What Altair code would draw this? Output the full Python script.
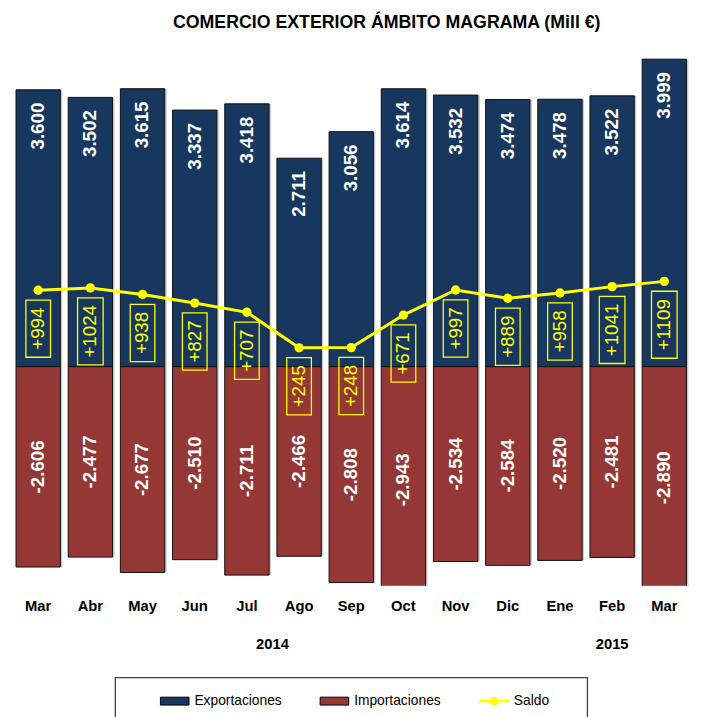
import altair as alt
import pandas as pd

# ---------------- data ----------------
months = ["Mar", "Abr", "May", "Jun", "Jul", "Ago", "Sep", "Oct", "Nov", "Dic", "Ene", "Feb", "Mar"]
years = [2014, 2014, 2014, 2014, 2014, 2014, 2014, 2014, 2014, 2014, 2015, 2015, 2015]
exports = [3600, 3502, 3615, 3337, 3418, 2711, 3056, 3614, 3532, 3474, 3478, 3522, 3999]
imports = [-2606, -2477, -2677, -2510, -2711, -2466, -2808, -2943, -2534, -2584, -2520, -2481, -2890]
saldo = [994, 1024, 938, 827, 707, 245, 248, 671, 997, 889, 958, 1041, 1109]
series_names = ["Exportaciones", "Importaciones", "Saldo"]
series_colors = ["#17375E", "#953735", "#FFFF00"]
title_text = "COMERCIO EXTERIOR ÁMBITO MAGRAMA (Mill €)"
year_labels = {"Jul 2014": "2014", "Feb 2015": "2015"}


def es_num(v):
    return f"{v:,}".replace(",", ".")


keys = [f"{m} {y}" for m, y in zip(months, years)]
df = pd.DataFrame({
    "key": keys,
    "exp": exports,
    "imp": imports,
    "saldo": saldo,
    "exp_lbl": [es_num(v) for v in exports],
    "imp_lbl": [es_num(v) for v in imports],
    "saldo_lbl": [f"+{v}" for v in saldo],
})

FONT = "Liberation Sans, Arial, sans-serif"
EXP_C, IMP_C, SAL_C = series_colors

x_scale = alt.Scale(domain=keys, paddingInner=0.15, paddingOuter=0.13)
y_scale = alt.Scale(domain=[-2850, 4200], nice=False, zero=False)

month_axis = alt.Axis(
    title=None, labelAngle=0, domain=False, ticks=False, grid=False,
    labelPadding=13, labelFont=FONT, labelFontSize=15, labelFontWeight="bold",
    labelColor="black", labelExpr="split(datum.value, ' ')[0]",
)
year_expr = " : ".join(f"datum.value == '{k}' ? '{v}'" for k, v in year_labels.items()) + " : ''"
year_axis = alt.Axis(
    title=None, orient="bottom", labelAngle=0, domain=False, ticks=False, grid=False,
    labelPadding=52, labelFont=FONT, labelFontSize=15, labelFontWeight="bold",
    labelColor="black", labelExpr=year_expr,
    labelOffset={"condition": {"test": "datum.value == 'Jul 2014'", "value": 26}, "value": 0},
)


def X(axis=None):
    return alt.X("key:N", scale=x_scale, axis=axis)


def Y(field):
    return alt.Y(f"{field}:Q", scale=y_scale, axis=None)


base = alt.Chart(df)

shadow_exp = base.mark_bar(color="#9a9a9a", opacity=0.5, xOffset=2, clip=True).encode(x=X(), y=Y("exp"))
shadow_imp = base.mark_bar(color="#9a9a9a", opacity=0.5, xOffset=2, clip=True).encode(x=X(), y=Y("imp"))

exp_bars = base.mark_bar(color=EXP_C, stroke="#111111", strokeWidth=1, clip=True).encode(
    x=X(month_axis), y=Y("exp"))
imp_bars = base.mark_bar(color=IMP_C, stroke="#111111", strokeWidth=1, clip=True).encode(
    x=X(year_axis), y=Y("imp"))

exp_text = base.mark_text(
    angle=270, align="right", baseline="middle", yOffset=13,
    color="white", fontWeight="bold", fontSize=19, font=FONT,
).encode(x=X(), y=Y("exp"), text="exp_lbl:N")

imp_text = base.transform_calculate(mid="datum.imp / 2").mark_text(
    angle=270, align="center", baseline="middle",
    color="white", fontWeight="bold", fontSize=19, font=FONT,
).encode(x=X(), y=Y("mid"), text="imp_lbl:N")

line = base.mark_line(
    color=SAL_C, strokeWidth=3,
    point=alt.OverlayMarkDef(filled=True, color=SAL_C, size=90, opacity=1),
).encode(x=X(), y=Y("saldo"))


def saldo_box(cond, path, size, off):
    sub = base.transform_filter(cond)
    box = sub.mark_point(
        shape=path, size=size, filled=False, stroke=SAL_C, strokeWidth=1.3,
        opacity=1, yOffset=off,
    ).encode(x=X(), y=Y("saldo"))
    txt = sub.mark_text(
        angle=270, align="center", baseline="middle", yOffset=off,
        color=SAL_C, fontSize=19, font=FONT,
    ).encode(x=X(), y=Y("saldo"), text="saldo_lbl:N")
    return [box, txt]


boxes3 = saldo_box("datum.saldo < 1000", "M-0.431,-1H0.431V1H-0.431Z", 3364, 39)
boxes4 = saldo_box("datum.saldo >= 1000", "M-0.382,-1H0.382V1H-0.382Z", 4624, 44)

main = alt.layer(
    shadow_exp, shadow_imp, exp_bars, imp_bars, exp_text, imp_text, line,
    *boxes3, *boxes4,
).resolve_axis(x="independent").properties(
    width=694, height=550,
    title=alt.TitleParams(
        title_text, font=FONT, fontSize=18, fontWeight="bold", color="black",
        anchor="middle", dx=36, offset=12,
    ),
)

# ---------------- legend panel ----------------
leg_df = pd.DataFrame({"item": series_names})
lx = alt.X("item:N", scale=alt.Scale(type="point", domain=series_names, padding=0.478), axis=None)
leg_base = alt.Chart(leg_df)

sw = leg_base.transform_filter("datum.item != 'Saldo'").mark_point(
    shape="M-1,-0.276H1V0.276H-1Z", size=841, filled=True, stroke="black",
    strokeWidth=1, opacity=1, xOffset=-17, yOffset=3,
).encode(x=lx, fill=alt.Fill("item:N", scale=alt.Scale(domain=series_names, range=series_colors), legend=None))
sl = leg_base.transform_filter("datum.item == 'Saldo'").mark_point(
    shape="M-1,0H1", size=961, filled=False, stroke=SAL_C, strokeWidth=2.5,
    opacity=1, xOffset=-17, yOffset=3,
).encode(x=lx)
sd = leg_base.transform_filter("datum.item == 'Saldo'").mark_circle(
    size=80, color=SAL_C, opacity=1, xOffset=-17, yOffset=3,
).encode(x=lx)
lt = leg_base.mark_text(
    align="left", baseline="middle", dx=3, yOffset=3, fontSize=14, font=FONT, color="black",
).encode(x=lx, text="item:N")

legend_panel = alt.layer(sw, sl, sd, lt).properties(
    width=479, height=42,
    view=alt.ViewBackground(stroke="#404040", strokeWidth=1.3),
)

chart = alt.vconcat(main, legend_panel, spacing=24, center=True).properties(
    padding={"left": 0, "top": 0, "right": 0, "bottom": 0},
).configure_view(stroke="transparent")

chart.save("out.html", embed_options={"renderer": "svg", "actions": False})
